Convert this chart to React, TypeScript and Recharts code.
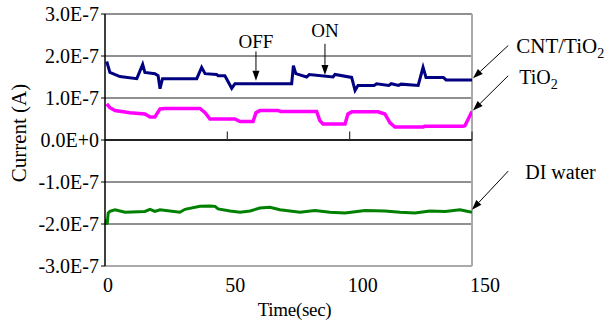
import {
  CartesianGrid,
  Line,
  LineChart,
  ReferenceLine,
  XAxis,
  YAxis,
} from "recharts";

// time in seconds, current in units of 1E-7 A
const TIME_TICKS = [0, 50, 100, 150];
const CURRENT_TICKS = [-3, -2, -1, 0, 1, 2, 3];

const CNT_TIME = [
  0.7, 2, 6.1, 13, 15.4, 16.3, 20.4, 21.7, 22.5, 23.5, 37.5, 39.5, 40.9, 45.6, 46.2, 49, 51.8,
  53.1, 76.3, 77, 78, 82.4, 83.5, 93.2, 94, 100.8, 102.2, 103.4, 110, 111, 116, 117, 120, 121,
  128, 130, 131.2, 138.3, 139.4, 150,
];
const CNT_CURRENT = [
  1.87, 1.61, 1.51, 1.46, 1.8, 1.61, 1.58, 1.53, 1.22, 1.46, 1.46, 1.73, 1.58, 1.56, 1.53, 1.53,
  1.23, 1.34, 1.34, 1.77, 1.58, 1.5, 1.56, 1.5, 1.56, 1.49, 1.18, 1.3, 1.3, 1.34, 1.3, 1.34, 1.3,
  1.33, 1.3, 1.73, 1.49, 1.49, 1.43, 1.43,
];

const TIO2_TIME = [
  0.7, 2, 4.1, 10.2, 16.3, 18.4, 20.4, 22.5, 24.5, 38.8, 40.9, 42.9, 53.1, 55.2, 60.5, 61.7, 63.3,
  70.7, 71.9, 86.5, 87.8, 89.1, 98.1, 99.3, 100.9, 111.6, 114.4, 116.5, 118.5, 130, 130.8, 146.3,
  147.1, 150,
];
const TIO2_CURRENT = [
  0.86, 0.77, 0.7, 0.65, 0.62, 0.55, 0.55, 0.74, 0.75, 0.75, 0.65, 0.5, 0.5, 0.44, 0.44, 0.65, 0.7,
  0.7, 0.68, 0.68, 0.46, 0.38, 0.38, 0.62, 0.67, 0.67, 0.62, 0.41, 0.31, 0.31, 0.33, 0.33, 0.34,
  0.68,
];

const DI_TIME = [
  0.6, 0.7, 0.9, 1.3, 2, 4.1, 8.2, 16.3, 18.4, 20.4, 22.5, 30.6, 32.7, 38.8, 42.9, 45, 46.2, 51.1,
  55.2, 59.3, 63.3, 67.4, 71.5, 79.7, 85.8, 91.9, 98.1, 106.3, 114.4, 120.6, 126.7, 132.8, 139,
  145.1, 150,
];
const DI_CURRENT = [
  -2.02, -1.88, -2.0, -1.74, -1.7, -1.66, -1.72, -1.7, -1.65, -1.7, -1.66, -1.72, -1.65, -1.58,
  -1.57, -1.58, -1.64, -1.69, -1.72, -1.69, -1.62, -1.6, -1.66, -1.72, -1.68, -1.72, -1.74, -1.68,
  -1.69, -1.72, -1.74, -1.69, -1.7, -1.66, -1.72,
];

const FONT = "Liberation Serif";

const toPoints = (times: number[], values: number[]) =>
  times.map((t, i) => ({ t, v: values[i] }));

const cntData = toPoints(CNT_TIME, CNT_CURRENT);
const tio2Data = toPoints(TIO2_TIME, TIO2_CURRENT);
const diData = toPoints(DI_TIME, DI_CURRENT);

type Note = {
  from: [number, number];
  to: [number, number];
  text: string;
  sub?: string;
  dx: number;
  dy: number;
  anchor: "start" | "middle";
  size: number;
};

const NOTES: Note[] = [
  { from: [164.8, 2.25], to: [150.4, 1.47], text: "CNT/TiO", sub: "2", dx: 8, dy: 7, anchor: "start", size: 21 },
  { from: [164.8, 1.53], to: [150.4, 0.7], text: "TiO", sub: "2", dx: 11, dy: 8, anchor: "start", size: 20 },
  { from: [164.8, -0.74], to: [150, -1.66], text: "DI water", dx: 17, dy: 8, anchor: "start", size: 20 },
  { from: [61.7, 2.11], to: [61.7, 1.41], text: "OFF", dx: 0, dy: -3, anchor: "middle", size: 19 },
  { from: [89.9, 2.29], to: [89.9, 1.55], text: "ON", dx: 0, dy: -7, anchor: "middle", size: 19 },
];

function formatCurrent(v: number) {
  if (v === 0) return "0.0E+0";
  return `${v.toFixed(1)}E-7`;
}

function Arrow(props: any) {
  const { x1, y1, x2, y2, note } = props;
  const n = note as Note;
  const ang = Math.atan2(y2 - y1, x2 - x1);
  const len = 10;
  const half = 3.5;
  const bx = x2 - len * Math.cos(ang);
  const by = y2 - len * Math.sin(ang);
  const px = -Math.sin(ang) * half;
  const py = Math.cos(ang) * half;
  return (
    <g>
      <line x1={x1} y1={y1} x2={bx} y2={by} stroke="#000" strokeWidth={1} />
      <polygon
        points={`${x2},${y2} ${bx + px},${by + py} ${bx - px},${by - py}`}
        fill="#000"
      />
      <text
        x={x1 + n.dx}
        y={y1 + n.dy}
        textAnchor={n.anchor}
        style={{ fontFamily: FONT }}
        fontSize={n.size}
        fill="#000"
      >
        {n.text}
        {n.sub && (
          <tspan fontSize={14} dy={5}>
            {n.sub}
          </tspan>
        )}
      </text>
    </g>
  );
}

function TimeTick(props: any) {
  const { x, y, payload } = props;
  return (
    <text
      x={x - 2}
      y={y + 26}
      textAnchor="start"
      style={{ fontFamily: FONT }}
      fontSize={20}
      fill="#000"
    >
      {payload.value}
    </text>
  );
}

function CurrentTick(props: any) {
  const { x, y, payload } = props;
  return (
    <text
      x={x - 1}
      y={y + 7}
      textAnchor="end"
      style={{ fontFamily: FONT }}
      fontSize={20}
      fill="#000"
    >
      {formatCurrent(payload.value)}
    </text>
  );
}

export default function App() {
  return (
    <div
      style={{ position: "absolute", left: 0, top: 0, background: "#fff", fontFamily: FONT }}
    >
      <LineChart
        width={611}
        height={323}
        margin={{ top: 14, right: 139, bottom: 0, left: 0 }}
        style={{ fontFamily: FONT }}
      >
        <CartesianGrid vertical={false} stroke="#222" strokeWidth={1.2} />
        <XAxis
          type="number"
          dataKey="t"
          domain={[0, 150]}
          ticks={TIME_TICKS}
          allowDataOverflow
          height={57}
          axisLine={false}
          tickLine={false}
          tickSize={0}
          tickMargin={0}
          tick={<TimeTick />}
          label={{
            content: (p: any) => {
              const vb = p.viewBox;
              return (
                <text
                  x={vb.x + vb.width / 2 + 6}
                  y={vb.y + 50}
                  textAnchor="middle"
                  style={{ fontFamily: FONT }}
                  fontSize={19}
                  letterSpacing={-0.3}
                  fill="#000"
                >
                  Time(sec)
                </text>
              );
            },
          }}
        />
        <YAxis
          type="number"
          domain={[-3, 3]}
          ticks={CURRENT_TICKS}
          width={105}
          axisLine={{ stroke: "#000", strokeWidth: 1.5 }}
          tickLine={{ stroke: "#000" }}
          tickSize={4}
          tickMargin={1}
          tick={<CurrentTick />}
          label={{
            content: () => (
              <text
                x={26}
                y={133}
                transform="rotate(-90, 26, 133)"
                textAnchor="middle"
                style={{ fontFamily: FONT }}
                fontSize={21}
                fill="#000"
              >
                Current (A)
              </text>
            ),
          }}
        />
        <ReferenceLine y={-3} stroke="#aaa" strokeWidth={2} />
        <ReferenceLine x={150} stroke="#aaa" strokeWidth={2} />
        <ReferenceLine y={0} stroke="#222" strokeWidth={1.8} />
        {TIME_TICKS.slice(1).map((t) => (
          <ReferenceLine
            key={t}
            segment={[
              { x: t, y: 0 },
              { x: t, y: 0.2 },
            ]}
            stroke="#333"
            strokeWidth={1.2}
          />
        ))}
        <Line
          data={cntData}
          dataKey="v"
          type="linear"
          stroke="#000080"
          strokeWidth={3}
          dot={false}
          isAnimationActive={false}
        />
        <Line
          data={tio2Data}
          dataKey="v"
          type="linear"
          stroke="#ff00ff"
          strokeWidth={3.5}
          dot={false}
          isAnimationActive={false}
        />
        <Line
          data={diData}
          dataKey="v"
          type="linear"
          stroke="#008000"
          strokeWidth={3}
          dot={false}
          isAnimationActive={false}
        />
        {NOTES.map((n) => (
          <ReferenceLine
            key={n.text}
            segment={[
              { x: n.from[0], y: n.from[1] },
              { x: n.to[0], y: n.to[1] },
            ]}
            ifOverflow="visible"
            stroke="#000"
            shape={(p: any) => <Arrow {...p} note={n} />}
          />
        ))}
      </LineChart>
    </div>
  );
}
